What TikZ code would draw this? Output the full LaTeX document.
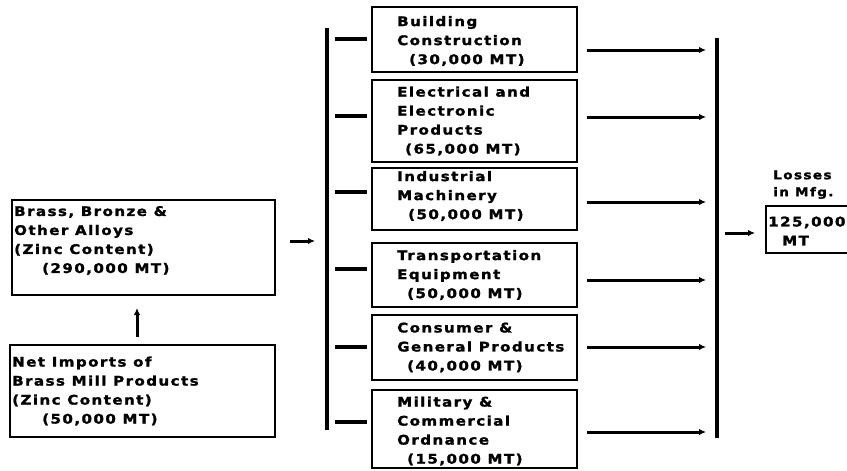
\documentclass[tikz,border=0pt]{standalone}
\usepackage{fontspec}
\newfontfamily\lblfont{DejaVu Sans}[FakeStretch=1.14,LetterSpace=11,FakeBold=1.6]
\usetikzlibrary{arrows.meta}
\begin{document}
\begin{tikzpicture}[x=1pt,y=-1pt,
  box/.style={draw, line width=2pt, inner sep=0pt, rectangle},
  lbl/.style={font=\lblfont\bfseries\fontsize{13.2}{19}\selectfont, align=left, inner sep=0pt, anchor=west},
  small/.style={font=\lblfont\bfseries\fontsize{12}{17}\selectfont},
  bar/.style={line width=3.5pt},
  stub/.style={line width=3.5pt},
  arr/.style={line width=3pt, -{Latex[length=7pt,width=6.5pt]}},
]
\useasboundingbox (0,0) rectangle (847,471);
\clip (0,0) rectangle (847,471);

% left boxes
\node[box, minimum width=263pt, minimum height=95pt] (brass) at (143.5,247.5) {};
\node[lbl] (brasst) at ([xshift=3pt,yshift=7pt]brass.west)
  {Brass, Bronze \&\\Other Alloys\\(Zinc Content)\\\hspace*{28pt}(290,000 MT)};
\node[box, minimum width=265pt, minimum height=92pt] (net) at (142.5,391) {};
\node[lbl] (nett) at ([xshift=3pt]net.west)
  {Net Imports of\\Brass Mill Products\\(Zinc Content)\\\hspace*{30pt}(50,000 MT)};

% up arrow
\coordinate (ua) at (137,337);
\draw[arr, shorten >=12pt] (ua) -- (ua |- brass.south);

% left bar and arrow into it
\coordinate (lbt) at (327,28);
\coordinate (lbb) at (327,430);
\draw[bar] (lbt) -- (lbb);
\coordinate (ba) at (290,241);
\draw[arr, shorten >=12pt] (ba) -- (ba -| lbt);

% product boxes
\node[box, minimum width=205pt, minimum height=65pt] (b1) at (474.5,39.5) {};
\node[lbl] (t1) at ([xshift=26pt,yshift=-1.5pt]b1.west)
  {Building\\Construction\\\hspace*{12pt}(30,000 MT)};
\node[box, minimum width=205pt, minimum height=82pt] (b2) at (474.5,121) {};
\node[lbl] (t2) at ([xshift=26pt]b2.west)
  {Electrical and\\Electronic\\Products\\\hspace*{8pt}(65,000 MT)};
\node[box, minimum width=205pt, minimum height=62pt] (b3) at (474.5,199) {};
\node[lbl] (t3) at ([xshift=26pt,yshift=3pt]b3.west)
  {Industrial\\Machinery\\\hspace*{11pt}(50,000 MT)};
\node[box, minimum width=205pt, minimum height=64pt] (b4) at (474.5,275) {};
\node[lbl] (t4) at ([xshift=26pt]b4.west)
  {Transportation\\Equipment\\\hspace*{10pt}(50,000 MT)};
\node[box, minimum width=205pt, minimum height=65pt] (b5) at (474.5,347.5) {};
\node[lbl] (t5) at ([xshift=26pt]b5.west)
  {Consumer \&\\General Products\\\hspace*{10pt}(40,000 MT)};
\node[box, minimum width=205pt, minimum height=78pt] (b6) at (474.5,429) {};
\node[lbl] (t6) at ([xshift=26pt,yshift=-2pt]b6.west)
  {Military \&\\Commercial\\Ordnance\\\hspace*{10pt}(15,000 MT)};

% stubs from left bar to boxes
\coordinate (s1) at (335,39);
\coordinate (s2) at (335,116);
\coordinate (s3) at (335,192);
\coordinate (s4) at (335,269);
\coordinate (s5) at (335,347);
\coordinate (s6) at (335,422);
\draw[stub] (s1) -- ([xshift=-4pt]s1 -| b1.west);
\draw[stub] (s2) -- ([xshift=-4pt]s2 -| b2.west);
\draw[stub] (s3) -- ([xshift=-4pt]s3 -| b3.west);
\draw[stub] (s4) -- ([xshift=-4pt]s4 -| b4.west);
\draw[stub] (s5) -- ([xshift=-4pt]s5 -| b5.west);
\draw[stub] (s6) -- ([xshift=-4pt]s6 -| b6.west);

% right bar
\coordinate (rbt) at (717,38);
\coordinate (rbb) at (717,438);
\draw[bar] (rbt) -- (rbb);

% arrows from boxes to right bar
\coordinate (r1) at (587,50);
\coordinate (r2) at (587,117);
\coordinate (r3) at (587,202);
\coordinate (r4) at (587,280);
\coordinate (r5) at (587,347);
\coordinate (r6) at (587,432);
\draw[arr, shorten >=11pt] (r1) -- (r1 -| rbt);
\draw[arr, shorten >=11pt] (r2) -- (r2 -| rbt);
\draw[arr, shorten >=11pt] (r3) -- (r3 -| rbt);
\draw[arr, shorten >=11pt] (r4) -- (r4 -| rbt);
\draw[arr, shorten >=11pt] (r5) -- (r5 -| rbt);
\draw[arr, shorten >=11pt] (r6) -- (r6 -| rbt);

% losses
\node[box, minimum width=100pt, minimum height=47pt, anchor=north west] (loss) at (765,205) {};
\node[lbl] (losst) at ([xshift=3pt,yshift=-1.5pt]loss.west) {125,000\\\hspace*{14pt}MT};
\node[lbl, small, anchor=south west] (losshead) at ([xshift=8pt,yshift=6pt]loss.north west) {Losses\\in Mfg.};
\coordinate (la) at (725,233);
\draw[arr, shorten >=10pt] (la) -- (la -| loss.west);
\end{tikzpicture}
\end{document}
